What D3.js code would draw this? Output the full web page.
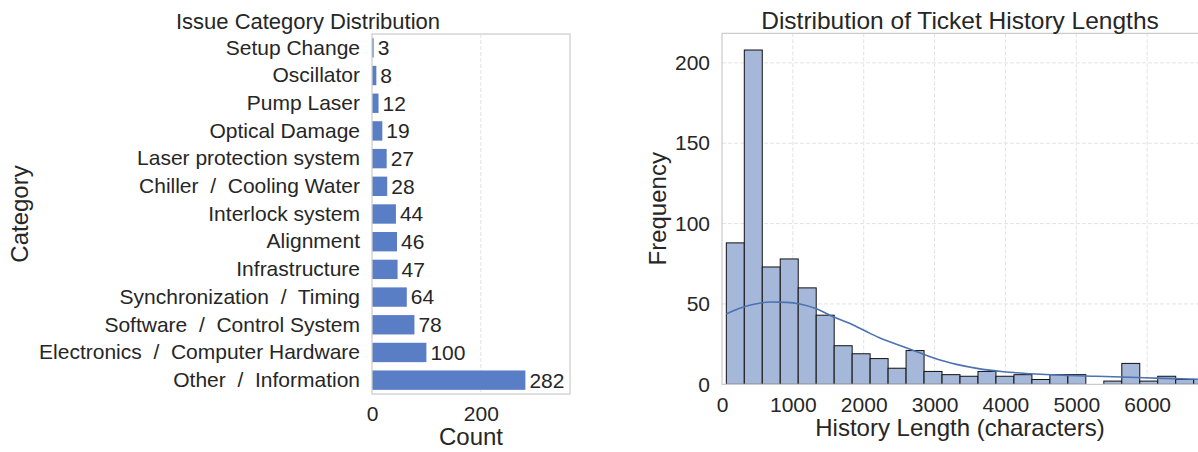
<!DOCTYPE html>
<html>
  <head>
    <meta charset="utf-8" />
    <title>Ticket charts</title>
    <script src="https://d3js.org/d3.v7.min.js"></script>
    <style>
        body {
            margin: 0;
            background: white;
        }
        text {
            font-family: "Liberation Sans", Arial, Helvetica, sans-serif;
            fill: #262626;
            white-space: pre;
        }
    </style>
  </head>
  <body>

    <svg id="viz"></svg>

    <script>
    // issue categories, top to bottom
    var categories = [
      "Setup Change", "Oscillator", "Pump Laser", "Optical Damage",
      "Laser protection system", "Chiller  /  Cooling Water", "Interlock system",
      "Alignment", "Infrastructure", "Synchronization  /  Timing",
      "Software  /  Control System", "Electronics  /  Computer Hardware",
      "Other  /  Information"
    ];
    var counts = [3, 8, 12, 19, 27, 28, 44, 46, 47, 64, 78, 100, 282];
    var countTicks = [0, 200];

    // histogram of history lengths (bins of ~254 chars starting at 61)
    var binStart = 61;
    var binWidth = 253.7;
    var binCounts = [88, 208, 73, 78, 60, 43, 24, 19, 16, 10, 21, 8, 6,
                     5, 8, 5, 6, 3, 6, 6, 0, 2, 13, 2, 5, 3, 3];
    var lengthTicks = [0, 1000, 2000, 3000, 4000, 5000, 6000];
    var freqTicks = [0, 50, 100, 150, 200];

    // kde curve
    var kdeX = [61, 250, 450, 680, 910, 1100, 1340, 1570, 1850, 2090, 2230, 2560,
                2840, 3030, 3310, 3600, 3970, 4350, 4810, 5290, 5760, 6230, 6720];
    var kdeY = [43.8, 47.3, 49.8, 51.2, 51.0, 50.0, 46.9, 42.0, 36.9, 31.7, 28.8, 23.4,
                18.7, 15.7, 12.4, 9.9, 7.8, 6.6, 5.6, 5.0, 4.4, 3.7, 3.1];

    var width = 1198;
    var height = 452;

    var svg = d3.select("#viz")
      .attr("width", width)
      .attr("height", height);

    var gridColor = "#e3e3e3";
    var spineColor = "#cccccc";

    // ---------- left: category bars ----------
    var L = {left: 372, right: 570, top: 34, bottom: 394};

    var x1 = d3.scaleLinear()
      .domain([0, 364])
      .range([L.left, L.right]);

    var y1 = d3.scaleBand()
      .domain(categories)
      .range([L.top, L.bottom])
      .paddingInner(0.3)
      .paddingOuter(0.15);

    var left = svg.append("g");

    left.selectAll("line.grid")
      .data(countTicks.filter(function(d) { return d > 0; }))
      .enter().append("line")
      .attr("x1", x1).attr("x2", x1)
      .attr("y1", L.top).attr("y2", L.bottom)
      .attr("stroke", gridColor)
      .attr("stroke-dasharray", "4,2");

    left.selectAll("rect.bar")
      .data(counts)
      .enter().append("rect")
      .attr("x", x1(0))
      .attr("y", function(d, i) { return y1(categories[i]); })
      .attr("width", function(d) { return x1(d) - x1(0); })
      .attr("height", y1.bandwidth())
      .attr("fill", "#5a7ec6");

    left.selectAll("text.val")
      .data(counts)
      .enter().append("text")
      .attr("x", function(d) { return x1(d) + 4; })
      .attr("y", function(d, i) { return y1(categories[i]) + y1.bandwidth() / 2; })
      .attr("dy", "0.35em")
      .attr("font-size", 21)
      .text(function(d) { return d; });

    left.append("rect")
      .attr("x", L.left).attr("y", L.top)
      .attr("width", L.right - L.left).attr("height", L.bottom - L.top)
      .attr("fill", "none")
      .attr("stroke", spineColor)
      .attr("stroke-width", 1.25);

    var xAxis1 = left.append("g")
      .attr("transform", "translate(0," + L.bottom + ")")
      .call(d3.axisBottom(x1).tickValues(countTicks).tickSize(0).tickPadding(12));
    var yAxis1 = left.append("g")
      .attr("transform", "translate(" + L.left + ",0)")
      .call(d3.axisLeft(y1).tickSize(0).tickPadding(12));
    [xAxis1, yAxis1].forEach(function(a) {
      a.select(".domain").remove();
      a.selectAll("text").attr("font-size", 21).attr("fill", "#262626")
        .style("font-family", "'Liberation Sans', Arial, sans-serif");
    });

    left.append("text")
      .attr("x", 308).attr("y", 29)
      .attr("text-anchor", "middle")
      .attr("font-size", 22)
      .text("Issue Category Distribution");

    left.append("text")
      .attr("x", (L.left + L.right) / 2).attr("y", 445)
      .attr("text-anchor", "middle")
      .attr("font-size", 24)
      .text("Count");

    left.append("text")
      .attr("transform", "translate(28," + (L.top + L.bottom) / 2 + ") rotate(-90)")
      .attr("text-anchor", "middle")
      .attr("font-size", 24)
      .text("Category");

    // ---------- right: histogram ----------
    var R = {left: 722, right: 1198, top: 33.3, bottom: 384.3};

    var x2 = d3.scaleLinear()
      .domain([0, 6718])
      .range([R.left, R.right]);

    var y2 = d3.scaleLinear()
      .domain([0, 218.4])
      .range([R.bottom, R.top]);

    var right = svg.append("g");

    right.selectAll("line.gx")
      .data(lengthTicks.filter(function(d) { return d > 0; }))
      .enter().append("line")
      .attr("x1", x2).attr("x2", x2)
      .attr("y1", R.top).attr("y2", R.bottom)
      .attr("stroke", gridColor)
      .attr("stroke-dasharray", "4,2");

    right.selectAll("line.gy")
      .data(freqTicks.filter(function(d) { return d > 0; }))
      .enter().append("line")
      .attr("x1", R.left).attr("x2", R.right)
      .attr("y1", y2).attr("y2", y2)
      .attr("stroke", gridColor)
      .attr("stroke-dasharray", "4,2");

    // keep each bin's own position, skip empty ones
    var bins = binCounts.map(function(c, i) {
      return {x0: binStart + i * binWidth, x1: binStart + (i + 1) * binWidth, n: c};
    }).filter(function(b) { return b.n > 0; });

    right.selectAll("rect.bin")
      .data(bins)
      .enter().append("rect")
      .attr("x", function(d) { return x2(d.x0); })
      .attr("y", function(d) { return y2(d.n); })
      .attr("width", function(d) { return x2(d.x1) - x2(d.x0); })
      .attr("height", function(d) { return y2(0) - y2(d.n); })
      .attr("fill", "#a5b8d9")
      .attr("stroke", "#111")
      .attr("stroke-width", 1);

    var kde = kdeX.map(function(d, i) { return [d, kdeY[i]]; });
    var line = d3.line()
      .x(function(d) { return x2(d[0]); })
      .y(function(d) { return y2(d[1]); })
      .curve(d3.curveMonotoneX);

    right.append("path")
      .attr("d", line(kde))
      .attr("fill", "none")
      .attr("stroke", "#4c72b0")
      .attr("stroke-width", 1.6);

    right.append("path")
      .attr("d", "M" + R.right + "," + R.top + "H" + R.left + "V" + R.bottom + "H" + R.right)
      .attr("fill", "none")
      .attr("stroke", spineColor)
      .attr("stroke-width", 1.25);

    var xAxis2 = right.append("g")
      .attr("transform", "translate(0," + R.bottom + ")")
      .call(d3.axisBottom(x2).tickValues(lengthTicks).tickFormat(d3.format("d")).tickSize(0).tickPadding(13));
    var yAxis2 = right.append("g")
      .attr("transform", "translate(" + R.left + ",0)")
      .call(d3.axisLeft(y2).tickValues(freqTicks).tickSize(0).tickPadding(12));
    [xAxis2, yAxis2].forEach(function(a) {
      a.select(".domain").remove();
      a.selectAll("text").attr("font-size", 21).attr("fill", "#262626")
        .style("font-family", "'Liberation Sans', Arial, sans-serif");
    });

    right.append("text")
      .attr("x", (R.left + R.right) / 2).attr("y", 29)
      .attr("text-anchor", "middle")
      .attr("font-size", 24.5)
      .text("Distribution of Ticket History Lengths");

    right.append("text")
      .attr("x", (R.left + R.right) / 2).attr("y", 436)
      .attr("text-anchor", "middle")
      .attr("font-size", 24)
      .text("History Length (characters)");

    right.append("text")
      .attr("transform", "translate(666," + (R.top + R.bottom) / 2 + ") rotate(-90)")
      .attr("text-anchor", "middle")
      .attr("font-size", 24)
      .text("Frequency");
    </script>

  </body>
</html>
